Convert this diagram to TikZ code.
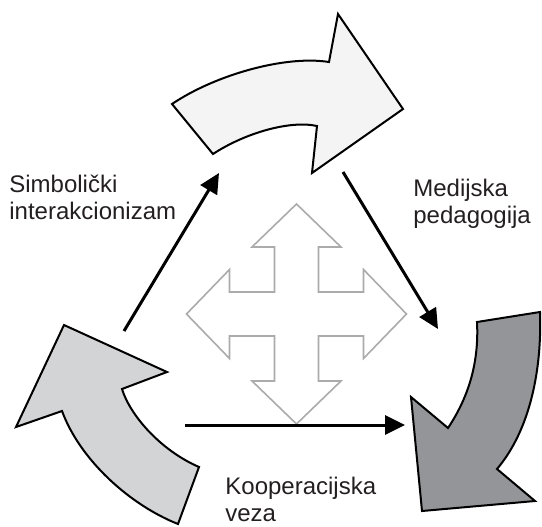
\documentclass[tikz,border=0pt]{standalone}
\usepackage{fontspec}
\setmainfont{Liberation Sans}
\usepackage{tikz}
\usetikzlibrary{arrows.meta,calc}
\definecolor{lightfill}{HTML}{F4F4F4}
\definecolor{midfill}{HTML}{D3D4D6}
\definecolor{darkfill}{HTML}{939598}
\definecolor{crossline}{HTML}{ABABAB}
\definecolor{textgray}{HTML}{231F20}
\tikzset{
  bigarrow/.style={draw=black,line width=1pt,line join=miter},
  link/.style={line width=1.5pt,-{Triangle[length=10pt,width=9.5pt]}},
  label/.style={font=\fontsize{12pt}{13.5pt}\selectfont,text=textgray,align=left,inner sep=0pt,anchor=north west}
}

\begin{document}
\begin{tikzpicture}[x=0.5pt, y=-0.5pt]
  \useasboundingbox (0,0) rectangle (542,526);

  % four way arrow in the middle
  \begin{scope}[shift={(296.5,314)}]
    \draw[crossline,line width=0.8pt,fill=white]
      (0,-110) -- (44.5,-67) -- (22,-67) -- (22,-22) -- (67,-22) -- (67,-44.5)
      -- (110,0) -- (67,44.5) -- (67,22) -- (22,22) -- (22,67) -- (44.5,67)
      -- (0,110) -- (-44.5,67) -- (-22,67) -- (-22,22) -- (-67,22) -- (-67,44.5)
      -- (-110,0) -- (-67,-44.5) -- (-67,-22) -- (-22,-22) -- (-22,-67) -- (-44.5,-67)
      -- cycle;
  \end{scope}

  % curved arrows
  \draw[bigarrow,fill=lightfill] (172,104) .. controls (215,75) and (285,55) .. (329,62)
    -- (338,14) -- (403,109) -- (312,173) -- (317,126)
    .. controls (290,120) and (245,133) .. (213,154) -- cycle;
  \draw[bigarrow,fill=darkfill] (477,322) -- (540,312)
    .. controls (542,370) and (530,430) .. (497,469)
    -- (535,501) -- (422,511) -- (411,397) -- (448,428)
    .. controls (470,395) and (479,360) .. (477,322) -- cycle;
  \draw[bigarrow,fill=midfill] (64,325) -- (167,372) -- (122,389)
    .. controls (130,415) and (160,450) .. (199,467)
    -- (178,524) .. controls (130,505) and (80,460) .. (62,411)
    -- (16,427) -- cycle;

  % connectors
  \coordinate (sym-from) at (124,331);
  \coordinate (sym-to) at (219,173);
  \coordinate (med-from) at (343,172);
  \coordinate (med-to) at (438,329);
  \coordinate (koo-from) at (185,425);
  \coordinate (koo-to) at (405,425);
  \draw[link] (sym-from) -- (sym-to);
  \draw[link] (med-from) -- (med-to);
  \draw[link] (koo-from) -- (koo-to);

  % labels
  \node[label] (sym) at (9,175) {Simbolički\\interakcionizam};
  \node[label] (med) at (413,179) {Medijska\\pedagogija};
  \node[label] (koo) at (225,477) {Kooperacijska\\veza};
\end{tikzpicture}
\end{document}
